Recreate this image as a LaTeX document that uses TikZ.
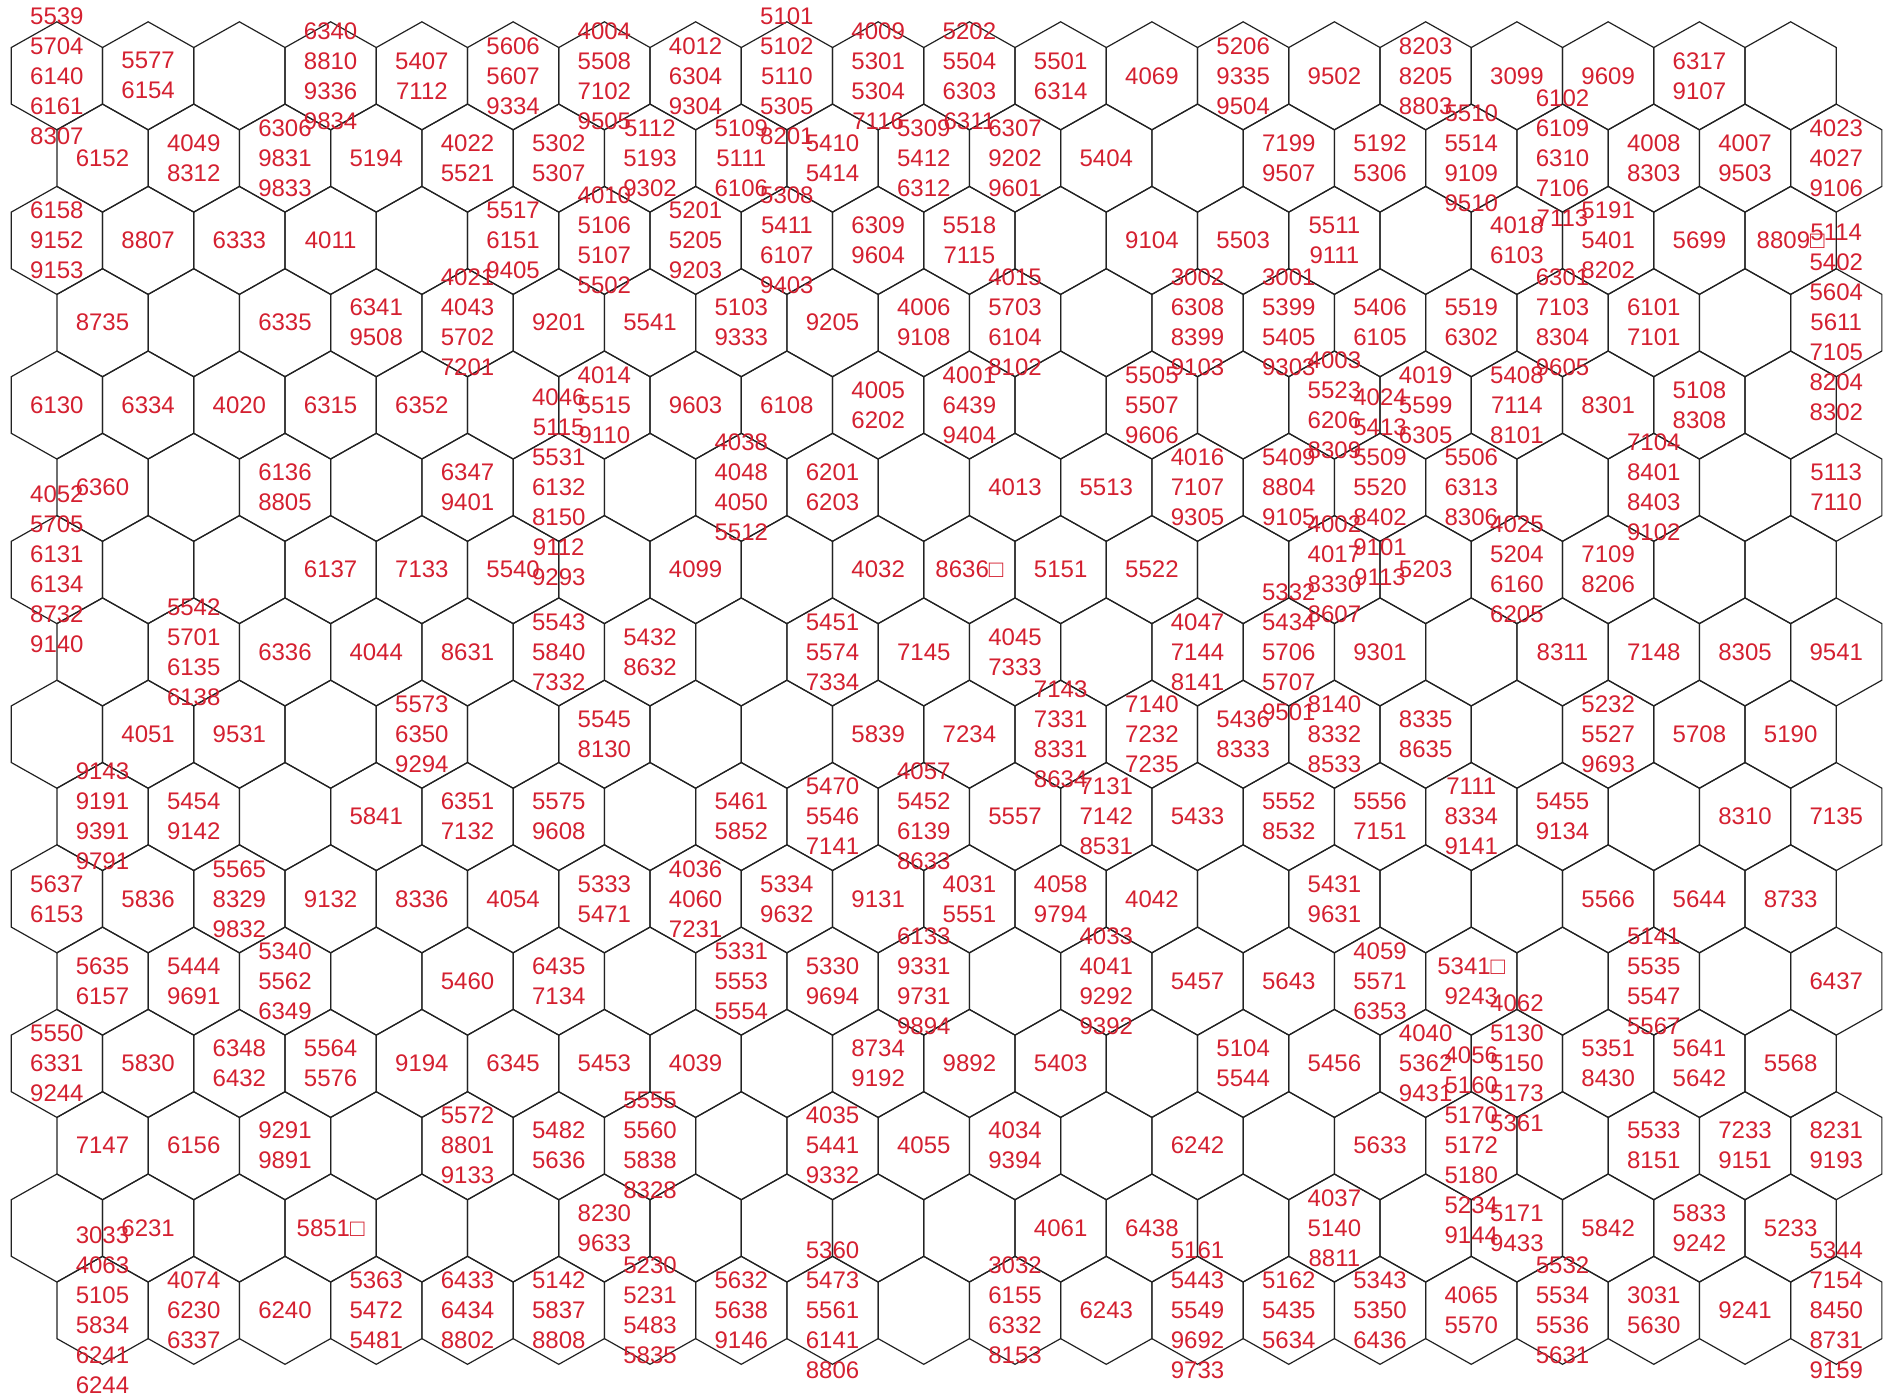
\documentclass[tikz,border=0pt]{standalone}
\usepackage{fontspec}
\setmainfont{Liberation Sans}
\usepackage{tikz}
\definecolor{numred}{HTML}{D42030}
\definecolor{edge}{HTML}{222222}
\newcommand\numfont{\fontsize{12}{15}\selectfont}

\begin{document}
\begin{tikzpicture}[x=0.5pt,y=-0.5pt,
  hex/.style={draw=edge,line width=0.6pt},
  lbl/.style={text=numred,font=\numfont,align=center,inner sep=0pt}]
  \useasboundingbox (0,0) rectangle (1888,1399);
  \foreach \r in {0,...,15}{
    \foreach \c in {0,...,19}{
      \pgfmathsetmacro\hx{56.9+91.25*\c+45.6*mod(\r,2)}
      \pgfmathsetmacro\hy{75.8+82.3*\r}
      \draw[hex] (\hx,\hy-54) -- ++(45.6,25.7) -- ++(0,56.6) -- ++(-45.6,25.7) -- ++(-45.6,-25.7) -- ++(0,-56.6) -- cycle;
    }
  }
  \foreach \r/\c/\t in {
    0/0/{5539\\5704\\6140\\6161\\8307}, 0/1/{5577\\6154}, 0/3/{6340\\8810\\9336\\9834}, 0/4/{5407\\7112},
    0/5/{5606\\5607\\9334}, 0/6/{4004\\5508\\7102\\9505}, 0/7/{4012\\6304\\9304}, 0/8/{5101\\5102\\5110\\5305\\8201},
    0/9/{4009\\5301\\5304\\7116}, 0/10/{5202\\5504\\6303\\6311}, 0/11/{5501\\6314}, 0/12/{4069},
    0/13/{5206\\9335\\9504}, 0/14/{9502}, 0/15/{8203\\8205\\8803}, 0/16/{3099}, 0/17/{9609}, 0/18/{6317\\9107},
    1/0/{6152}, 1/1/{4049\\8312}, 1/2/{6306\\9831\\9833}, 1/3/{5194}, 1/4/{4022\\5521}, 1/5/{5302\\5307},
    1/6/{5112\\5193\\9302}, 1/7/{5109\\5111\\6106}, 1/8/{5410\\5414}, 1/9/{5309\\5412\\6312},
    1/10/{6307\\9202\\9601}, 1/11/{5404}, 1/13/{7199\\9507}, 1/14/{5192\\5306}, 1/15/{5510\\5514\\9109\\9510},
    1/16/{6102\\6109\\6310\\7106\\7113}, 1/17/{4008\\8303}, 1/18/{4007\\9503}, 1/19/{4023\\4027\\9106},
    2/0/{6158\\9152\\9153}, 2/1/{8807}, 2/2/{6333}, 2/3/{4011}, 2/5/{5517\\6151\\9405},
    2/6/{4010\\5106\\5107\\5502}, 2/7/{5201\\5205\\9203}, 2/8/{5308\\5411\\6107\\9403}, 2/9/{6309\\9604},
    2/10/{5518\\7115}, 2/12/{9104}, 2/13/{5503}, 2/14/{5511\\9111}, 2/16/{4018\\6103},
    2/17/{5191\\5401\\8202}, 2/18/{5699}, 2/19/{8809□},
    3/0/{8735}, 3/2/{6335}, 3/3/{6341\\9508}, 3/4/{4021\\4043\\5702\\7201}, 3/5/{9201}, 3/6/{5541},
    3/7/{5103\\9333}, 3/8/{9205}, 3/9/{4006\\9108}, 3/10/{4015\\5703\\6104\\8102},
    3/12/{3002\\6308\\8399\\9103}, 3/13/{3001\\5399\\5405\\9303}, 3/14/{5406\\6105}, 3/15/{5519\\6302},
    3/16/{6301\\7103\\8304\\9605}, 3/17/{6101\\7101}, 3/19/{5114\\5402\\5604\\5611\\7105\\8204\\8302},
    4/0/{6130}, 4/1/{6334}, 4/2/{4020}, 4/3/{6315}, 4/4/{6352}, 4/6/{4014\\5515\\9110}, 4/7/{9603},
    4/8/{6108}, 4/9/{4005\\6202}, 4/10/{4001\\6439\\9404}, 4/12/{5505\\5507\\9606},
    4/14/{4003\\5523\\6206\\8309}, 4/15/{4019\\5599\\6305}, 4/16/{5408\\7114\\8101}, 4/17/{8301}, 4/18/{5108\\8308},
    5/0/{6360}, 5/2/{6136\\8805}, 5/4/{6347\\9401}, 5/5/{4046\\5115\\5531\\6132\\8150\\9112\\9293},
    5/7/{4038\\4048\\4050\\5512}, 5/8/{6201\\6203}, 5/10/{4013}, 5/11/{5513}, 5/12/{4016\\7107\\9305},
    5/13/{5409\\8804\\9105}, 5/14/{4024\\5413\\5509\\5520\\8402\\9101\\9113}, 5/15/{5506\\6313\\8306},
    5/17/{7104\\8401\\8403\\9102}, 5/19/{5113\\7110},
    6/0/{4052\\5705\\6131\\6134\\8732\\9140}, 6/3/{6137}, 6/4/{7133}, 6/5/{5540}, 6/7/{4099}, 6/9/{4032},
    6/10/{8636□}, 6/11/{5151}, 6/12/{5522}, 6/14/{4002\\4017\\8330\\8607}, 6/15/{5203},
    6/16/{4025\\5204\\6160\\6205}, 6/17/{7109\\8206},
    7/1/{5542\\5701\\6135\\6138}, 7/2/{6336}, 7/3/{4044}, 7/4/{8631}, 7/5/{5543\\5840\\7332}, 7/6/{5432\\8632},
    7/8/{5451\\5574\\7334}, 7/9/{7145}, 7/10/{4045\\7333}, 7/12/{4047\\7144\\8141},
    7/13/{5332\\5434\\5706\\5707\\9501}, 7/14/{9301}, 7/16/{8311}, 7/17/{7148}, 7/18/{8305}, 7/19/{9541},
    8/1/{4051}, 8/2/{9531}, 8/4/{5573\\6350\\9294}, 8/6/{5545\\8130}, 8/9/{5839}, 8/10/{7234},
    8/11/{7143\\7331\\8331\\8634}, 8/12/{7140\\7232\\7235}, 8/13/{5436\\8333}, 8/14/{8140\\8332\\8533},
    8/15/{8335\\8635}, 8/17/{5232\\5527\\9693}, 8/18/{5708}, 8/19/{5190},
    9/0/{9143\\9191\\9391\\9791}, 9/1/{5454\\9142}, 9/3/{5841}, 9/4/{6351\\7132}, 9/5/{5575\\9608},
    9/7/{5461\\5852}, 9/8/{5470\\5546\\7141}, 9/9/{4057\\5452\\6139\\8633}, 9/10/{5557},
    9/11/{7131\\7142\\8531}, 9/12/{5433}, 9/13/{5552\\8532}, 9/14/{5556\\7151}, 9/15/{7111\\8334\\9141},
    9/16/{5455\\9134}, 9/18/{8310}, 9/19/{7135},
    10/0/{5637\\6153}, 10/1/{5836}, 10/2/{5565\\8329\\9832}, 10/3/{9132}, 10/4/{8336}, 10/5/{4054},
    10/6/{5333\\5471}, 10/7/{4036\\4060\\7231}, 10/8/{5334\\9632}, 10/9/{9131}, 10/10/{4031\\5551},
    10/11/{4058\\9794}, 10/12/{4042}, 10/14/{5431\\9631}, 10/17/{5566}, 10/18/{5644}, 10/19/{8733},
    11/0/{5635\\6157}, 11/1/{5444\\9691}, 11/2/{5340\\5562\\6349}, 11/4/{5460}, 11/5/{6435\\7134},
    11/7/{5331\\5553\\5554}, 11/8/{5330\\9694}, 11/9/{6133\\9331\\9731\\9894}, 11/11/{4033\\4041\\9292\\9392},
    11/12/{5457}, 11/13/{5643}, 11/14/{4059\\5571\\6353}, 11/15/{5341□\\9243}, 11/17/{5141\\5535\\5547\\5567},
    11/19/{6437},
    12/0/{5550\\6331\\9244}, 12/1/{5830}, 12/2/{6348\\6432}, 12/3/{5564\\5576}, 12/4/{9194}, 12/5/{6345},
    12/6/{5453}, 12/7/{4039}, 12/9/{8734\\9192}, 12/10/{9892}, 12/11/{5403}, 12/13/{5104\\5544},
    12/14/{5456}, 12/15/{4040\\5362\\9431}, 12/16/{4062\\5130\\5150\\5173\\5361}, 12/17/{5351\\8430},
    12/18/{5641\\5642}, 12/19/{5568},
    13/0/{7147}, 13/1/{6156}, 13/2/{9291\\9891}, 13/4/{5572\\8801\\9133}, 13/5/{5482\\5636},
    13/6/{5555\\5560\\5838\\8328}, 13/8/{4035\\5441\\9332}, 13/9/{4055}, 13/10/{4034\\9394}, 13/12/{6242},
    13/14/{5633}, 13/15/{4056\\5160\\5170\\5172\\5180\\5234\\9144}, 13/17/{5533\\8151}, 13/18/{7233\\9151},
    13/19/{8231\\9193},
    14/1/{6231}, 14/3/{5851□}, 14/6/{8230\\9633}, 14/11/{4061}, 14/12/{6438}, 14/14/{4037\\5140\\8811},
    14/16/{5171\\9433}, 14/17/{5842}, 14/18/{5833\\9242}, 14/19/{5233},
    15/0/{3033\\4063\\5105\\5834\\6241\\6244}, 15/1/{4074\\6230\\6337}, 15/2/{6240}, 15/3/{5363\\5472\\5481},
    15/4/{6433\\6434\\8802}, 15/5/{5142\\5837\\8808}, 15/6/{5230\\5231\\5483\\5835}, 15/7/{5632\\5638\\9146},
    15/8/{5360\\5473\\5561\\6141\\8806}, 15/10/{3032\\6155\\6332\\8153}, 15/11/{6243},
    15/12/{5161\\5443\\5549\\9692\\9733}, 15/13/{5162\\5435\\5634}, 15/14/{5343\\5350\\6436},
    15/15/{4065\\5570}, 15/16/{5532\\5534\\5536\\5631}, 15/17/{3031\\5630}, 15/18/{9241},
    15/19/{5344\\7154\\8450\\8731\\9159}}
    \node[lbl] (n-\r-\c) at ({56.9+91.25*\c+45.6*mod(\r,2)},{75.8+82.3*\r}) {\t};
\end{tikzpicture}
\end{document}
